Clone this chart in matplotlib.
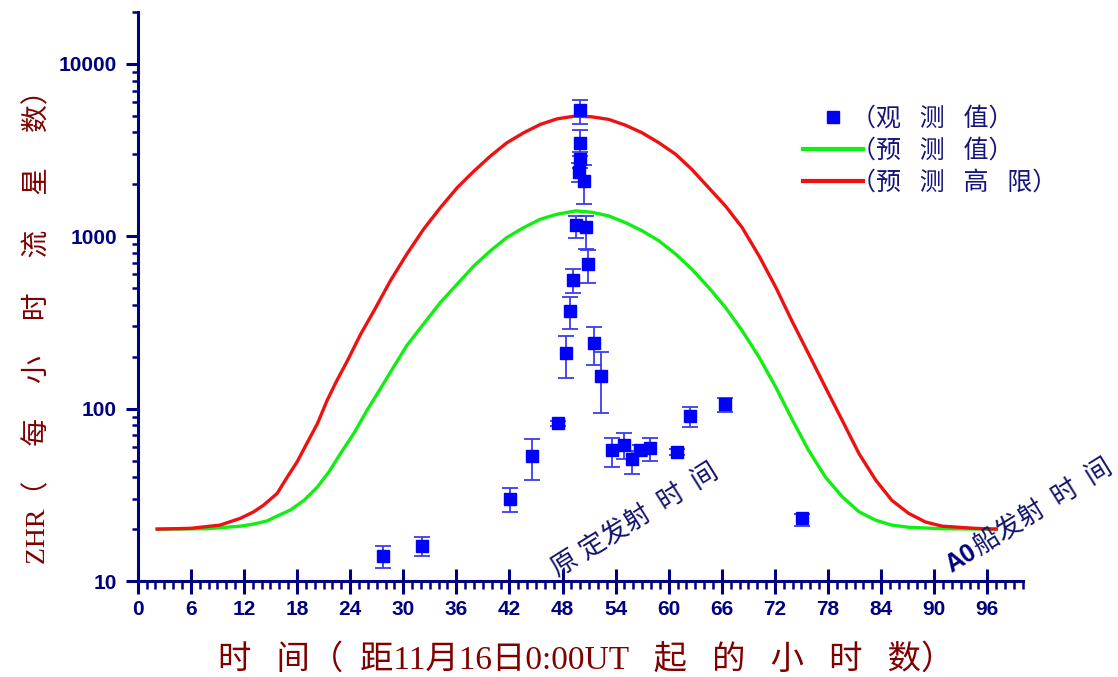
import numpy as np
import matplotlib
matplotlib.use("Agg")
from matplotlib import pyplot as plt
from matplotlib import ticker
from matplotlib.lines import Line2D

# observed ZHR with asymmetric error bars
obs_hours = [27.7, 32.1, 42.1, 44.5, 47.5, 48.4, 48.8, 49.2, 49.5, 50.6,
             49.9, 50.4, 50.0, 50.0, 50.0, 50.9, 51.6, 52.4, 53.6, 54.9,
             55.9, 56.8, 57.9, 60.9, 62.45, 66.4, 75.1]
obs_zhr = [14.0, 16.0, 30.1, 53.1, 82.0, 211, 366, 557, 1164, 1133,
           2366, 2093, 2792, 3483, 5390, 690, 240, 154, 57.3, 61.8,
           50.8, 57.3, 59.1, 56.0, 90.5, 106.7, 23.1]
obs_err_lo = [2.1, 2.0, 5.1, 14.3, 3.0, 61, 76, 88, 181, 286,
              300, 560, 300, 580, 933, 155, 60, 60, 11.4, 11.0,
              8.8, 4.0, 9.4, 2.0, 12.3, 10.7, 2.2]
obs_err_hi = [1.9, 2.0, 4.7, 13.3, 3.0, 54, 80, 88, 149, 180,
              300, 500, 300, 630, 820, 141, 56, 58, 10.2, 10.7,
              6.0, 4.0, 8.4, 2.0, 11.5, 9.3, 1.5]

# predicted value (green)
pred_hours = [2.2, 7.8, 11.6, 13.1, 14.6, 15.75, 17.25, 18.8, 20.3, 21.6,
              22.9, 24.4, 25.9, 27.4, 28.9, 30.4, 32.3, 34.2, 36.1, 38.0,
              39.85, 41.7, 43.6, 45.5, 47.4, 49.5, 51.3, 53.2, 55.1, 57.0,
              58.9, 60.8, 62.6, 64.5, 66.4, 68.3, 70.2, 72.1, 73.9, 75.8,
              77.7, 79.6, 81.5, 83.4, 85.2, 87.1, 90.9, 97.0]
pred_zhr = [20, 20.1, 20.8, 21.4, 22.3, 23.8, 25.8, 29.4, 35.1, 42.9,
            54.8, 71.6, 97.6, 130, 174, 232, 310, 413, 528, 674,
            823, 983, 1122, 1256, 1343, 1403, 1378, 1313, 1200, 1075,
            940, 787, 645, 505, 387, 283, 199, 133, 87.4, 57.3,
            40.1, 30.8, 25.2, 22.5, 21.1, 20.5, 20.1, 20]

# predicted upper limit (red)
high_hours = [2.2, 5.95, 9.3, 11.6, 13.1, 14.2, 15.75, 16.9, 18.0, 19.1,
              20.3, 21.4, 22.5, 23.7, 25.2, 26.7, 28.55, 30.4, 32.3, 34.2,
              36.1, 38.0, 39.85, 41.7, 43.6, 45.5, 47.4, 49.4, 51.3, 53.2,
              55.1, 57.0, 58.9, 60.8, 62.6, 64.5, 66.4, 68.3, 70.2, 72.1,
              73.9, 75.8, 77.7, 79.6, 81.5, 83.4, 85.2, 87.1, 89.0, 90.9,
              94.65, 97.0]
high_zhr = [20, 20.2, 21.1, 23.1, 25.2, 27.5, 32.2, 40.1, 49.0, 62.7,
            81.8, 111.6, 145.6, 190, 271, 370, 552, 787, 1099, 1466,
            1914, 2390, 2918, 3483, 3983, 4457, 4800, 4977, 4930, 4766,
            4411, 3980, 3483, 2985, 2445, 1915, 1500, 1122, 770, 505,
            324, 208, 133, 85.5, 54.8, 38.4, 29.4, 24.7, 22.0, 20.8,
            20.2, 20]

legend_labels = ["（观   测   值）", "（预   测   值）", "（预   测   高   限）"]

NAVY = "#000080"
DARKRED = "#800000"
BLUE = "#0000ff"
GREEN = "#11ee11"
RED = "#ee1111"
NOTE = "#14146e"
CJK = ["Liberation Serif", "Noto Sans CJK SC"]

fig = plt.figure(figsize=(11.18, 6.77), dpi=100)
ax = fig.add_axes([0.1232, 0.1418, 0.7916, 0.8405])

ax.plot(pred_hours, pred_zhr, color=GREEN, lw=2.4, zorder=2)
ax.plot(high_hours, high_zhr, color=RED, lw=2.4, zorder=2)
ax.errorbar(obs_hours, obs_zhr, yerr=[obs_err_lo, obs_err_hi], fmt="s",
            color=BLUE, ms=9, ecolor="#3c3cf0", elinewidth=1.3,
            capsize=5.5, capthick=1.3, zorder=3)

ax.set_yscale("log")
ax.set_xlim(0, 100)
ax.set_ylim(10, 20000)

for side in ["top", "right"]:
    ax.spines[side].set_visible(False)
for side in ["left", "bottom"]:
    ax.spines[side].set_color(NAVY)
    ax.spines[side].set_linewidth(2.2)

ax.xaxis.set_major_locator(ticker.MultipleLocator(6))
ax.xaxis.set_minor_locator(ticker.MultipleLocator(1))
ax.yaxis.set_major_locator(ticker.FixedLocator([10, 100, 1000, 10000]))
ax.yaxis.set_major_formatter(ticker.FuncFormatter(lambda v, _: "%d" % v))
ax.yaxis.set_minor_locator(ticker.LogLocator(subs=np.arange(2, 10)))
ax.yaxis.set_minor_formatter(ticker.NullFormatter())

ax.tick_params(axis="x", which="major", direction="inout", length=18,
               width=2.2, color=NAVY, pad=5)
ax.tick_params(axis="x", which="minor", direction="out", length=5.5,
               width=1.8, color=NAVY)
ax.tick_params(axis="y", which="major", direction="out", length=9,
               width=2.2, color=NAVY, pad=6)
ax.tick_params(axis="y", which="minor", direction="out", length=4.5,
               width=1.8, color=NAVY)
ax.tick_params(which="major", labelsize=15, labelcolor=NAVY,
               labelfontfamily="Liberation Sans")

fig.text(0.524, 0.025, "时   间（  距11月16日0:00UT   起   的   小   时   数）",
         family=CJK, fontsize=24, color=DARKRED, ha="center", va="center")
fig.text(0.034, 0.527,
         "ZHR（     每     小     时     流     星     数）",
         family=CJK, fontsize=20, color=DARKRED, ha="center", va="center",
         rotation=90)

# launch-time annotations
ANG = 32
ax.text(47.4, 10.55, "原 定发射  时  间", family=CJK, fontsize=19, color=NOTE,
        rotation=ANG, rotation_mode="anchor", ha="left", va="baseline")
ang = np.deg2rad(ANG)
ax.text(91.9, 11.2, "A0", family="Liberation Sans", fontweight="bold",
        fontsize=18, color=NAVY, rotation=ANG, rotation_mode="anchor",
        ha="left", va="baseline")
ax.annotate("船发射  时  间", xy=(91.9, 11.2), xycoords="data",
            xytext=(24 * np.cos(ang), 24 * np.sin(ang)),
            textcoords="offset points", family=CJK, fontsize=19,
            color=NOTE, rotation=ANG, rotation_mode="anchor",
            ha="left", va="baseline", annotation_clip=False)

handles = [
    Line2D([], [], marker="s", ls="none", color=BLUE, ms=8),
    Line2D([], [], color=GREEN, lw=3),
    Line2D([], [], color=RED, lw=3),
]
leg = fig.legend(handles, legend_labels, loc="upper left",
                 bbox_to_anchor=(0.718, 0.842), frameon=False,
                 prop={"family": CJK, "size": 18}, labelcolor="#14147a",
                 handlelength=2.4, handletextpad=-0.45, labelspacing=0.33,
                 borderpad=0, borderaxespad=0)

fig.canvas.draw()
plt.setp(ax.get_xticklabels() + ax.get_yticklabels(), fontweight="bold")

fig.savefig("out.png", dpi=100)
